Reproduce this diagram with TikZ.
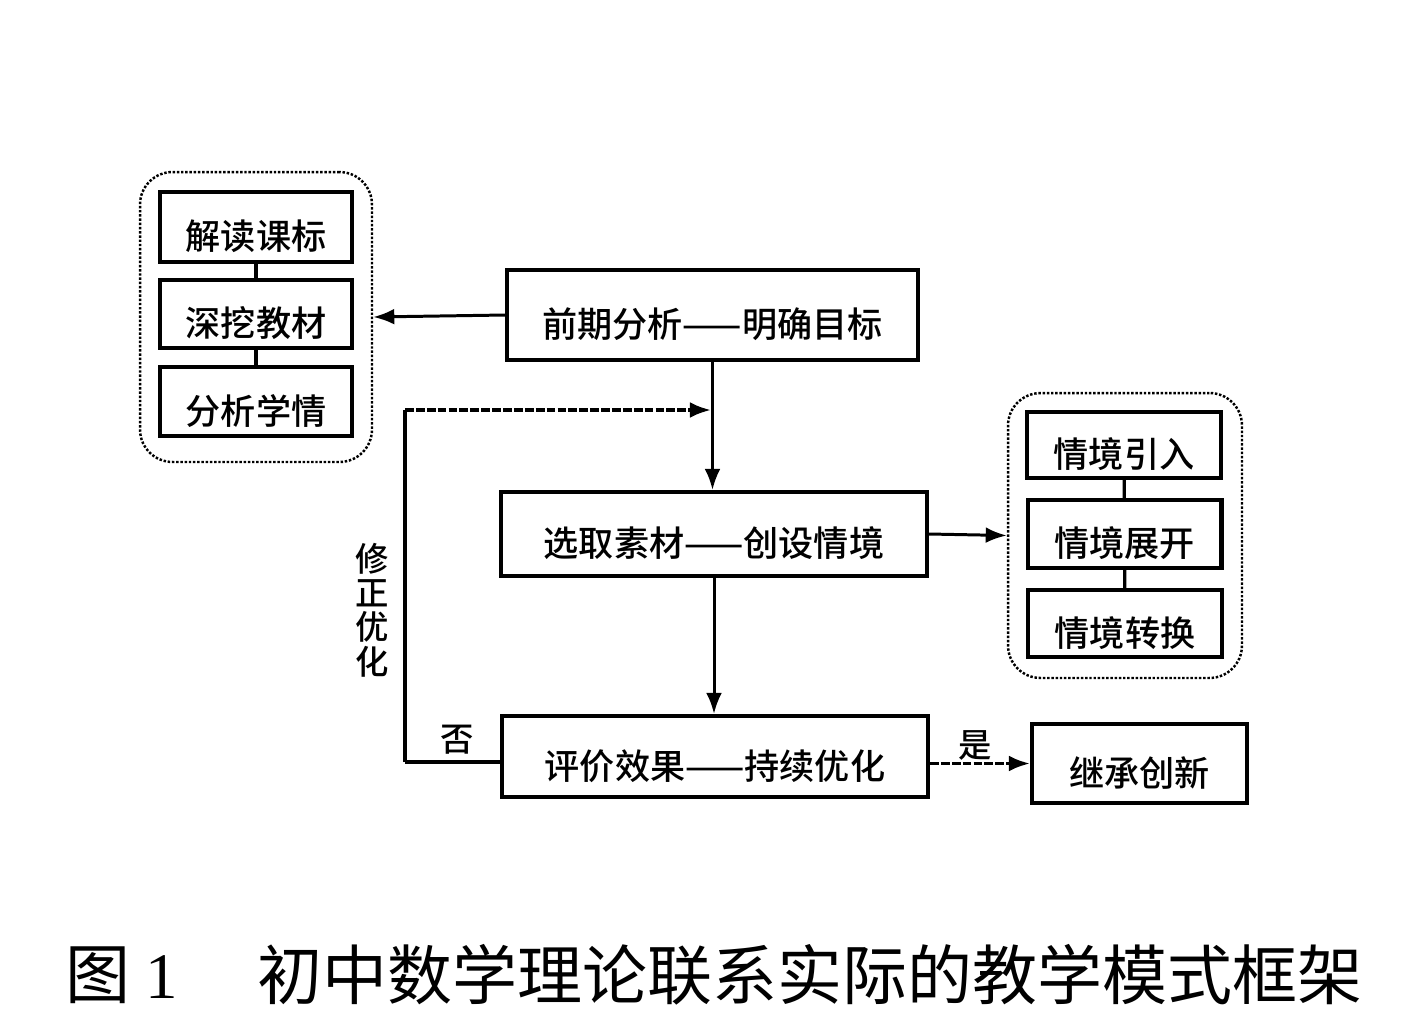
\documentclass[tikz,border=0pt]{standalone}
\usepackage{fontspec}
\setmainfont{Noto Sans CJK SC}[BoldFont={Noto Sans CJK SC Medium}]
\newfontfamily\chiffre{Liberation Serif}
\usetikzlibrary{arrows.meta}

\tikzset{
  boite/.style = {draw, line width=2.3pt, inner sep=0pt,
                  text height=28pt, text depth=2pt,
                  font=\fontsize{20}{22}\selectfont\bfseries},
  groupe/.style = {draw, densely dotted, line width=1.4pt,
                   rounded corners=0.65cm},
  fleche/.style = {line width=1.7pt, -{Latex[length=12pt,width=9pt]}},
  pointille/.style = {dash pattern=on 5pt off 1.2pt},
  lien/.style = {line width=1.8pt},
  legende/.style = {font=\fontsize{37}{40}\selectfont}
}

\begin{document}
\begin{tikzpicture}[x=0.02cm, y=-0.02cm]
  \useasboundingbox (0,0) rectangle (1423,1032);

  % Les groupes en pointillés
  \node[groupe, minimum width=4.64cm, minimum height=5.8cm] (gauche) at (256,317) {};
  \node[groupe, minimum width=4.68cm, minimum height=5.7cm] (droite) at (1125,535.5) {};

  % Les boîtes de gauche
  \node[boite, minimum width=3.84cm, minimum height=1.4cm] (kebiao) at (256,227) {解读课标};
  \node[boite, minimum width=3.84cm, minimum height=1.36cm] (jiaocai) at (256,314) {深挖教材};
  \node[boite, minimum width=3.84cm, minimum height=1.38cm] (xueqing) at (256,401.5) {分析学情};

  % Les boîtes du milieu
  \node[boite, minimum width=8.22cm, minimum height=1.8cm] (qianqi) at (712.5,315) {前期分析——明确目标};
  \node[boite, minimum width=8.52cm, minimum height=1.68cm] (xuanqu) at (714,534) {选取素材——创设情境};
  \node[boite, minimum width=8.52cm, minimum height=1.62cm] (pingjia) at (715,756.5) {评价效果——持续优化};

  % Les boîtes de droite
  \node[boite, minimum width=3.88cm, minimum height=1.32cm] (yinru) at (1124,445) {情境引入};
  \node[boite, minimum width=3.88cm, minimum height=1.36cm] (zhankai) at (1124.5,534) {情境展开};
  \node[boite, minimum width=3.88cm, minimum height=1.34cm] (zhuanhuan) at (1125,623.5) {情境转换};
  \node[boite, minimum width=4.3cm, minimum height=1.58cm] (jicheng) at (1139.5,763.5) {继承创新};

  % Les liens
  \draw[lien] (kebiao) -- (jiaocai);
  \draw[lien] (jiaocai) -- (xueqing);
  \draw[lien] (yinru) -- (zhankai);
  \draw[lien] (zhankai) -- (zhuanhuan);

  % Les flèches
  \draw[fleche] (qianqi.west) -- (gauche.east);
  \draw[fleche] (qianqi.south) -- (qianqi.south |- xuanqu.north);
  \draw[fleche] (xuanqu.east) -- (droite.west);
  \draw[fleche] (xuanqu.south) -- (xuanqu.south |- pingjia.north);
  \draw[fleche, pointille, line width=2pt] (pingjia.east |- jicheng.west) -- (jicheng.west);

  % Le retour
  \coordinate (coin1) at (405,762);
  \coordinate (coin2) at (405,410);
  \coordinate (retour) at (711,410);
  \draw[line width=2.6pt] (pingjia.west |- coin1) -- (coin1);
  \draw[line width=2pt] (coin1) -- (coin2);
  \draw[fleche, pointille, line width=2pt] (coin2) -- (retour);

  % Les lettres
  \node[font=\fontsize{19}{20}\selectfont\bfseries] (fou) at (457,740) {否};
  \node[font=\fontsize{19}{20}\selectfont\bfseries] (shi) at (975,745) {是};
  \node[font=\fontsize{19}{19.5}\selectfont\bfseries, align=center] (xiuzheng) at (372,610) {修\\正\\优\\化};

  % La légende
  \node[legende] (tu) at (122,975) {图 {\chiffre 1}};
  \node[legende] (titre) at (810,975) {初中数学理论联系实际的教学模式框架};
\end{tikzpicture}
\end{document}
